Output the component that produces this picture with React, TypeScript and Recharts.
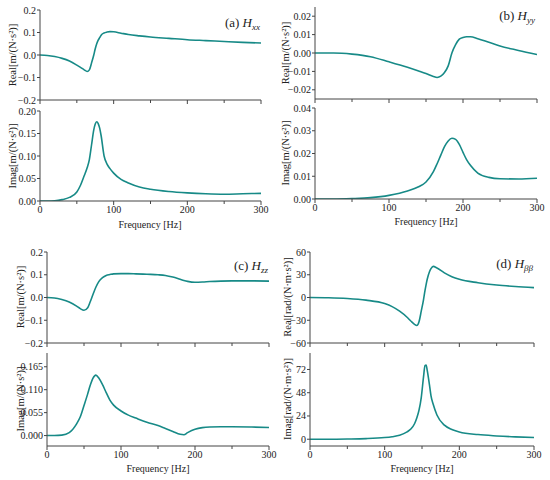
import React from 'react';
import { LineChart, Line, XAxis, YAxis } from 'recharts';

// ---- data ----
const freqTicks = [0, 50, 100, 150, 200, 250, 300];

// (a) Hxx
const freqA = [0, 10, 20, 30, 40, 50, 55, 60, 64, 67, 70, 73, 75, 77, 79, 81, 83, 87, 91, 95, 100, 110, 120, 135, 150, 175, 200, 225, 250, 275, 300];
const realA = [0, -0.002, -0.007, -0.015, -0.027, -0.045, -0.055, -0.066, -0.073, -0.066, -0.035, 0.0, 0.028, 0.05, 0.066, 0.077, 0.088, 0.098, 0.102, 0.104, 0.103, 0.097, 0.091, 0.085, 0.08, 0.074, 0.068, 0.064, 0.06, 0.056, 0.053];
const imagA = [0, 0, 0.0005, 0.003, 0.008, 0.02, 0.035, 0.056, 0.074, 0.092, 0.125, 0.158, 0.171, 0.176, 0.172, 0.162, 0.145, 0.1, 0.082, 0.072, 0.062, 0.048, 0.04, 0.031, 0.026, 0.021, 0.018, 0.016, 0.015, 0.016, 0.017];

// (b) Hyy
const freqB = [0, 25, 50, 75, 100, 125, 140, 150, 160, 165, 170, 175, 180, 185, 190, 195, 200, 205, 210, 220, 235, 250, 275, 300];
const realB = [0, 0, -0.0006, -0.002, -0.0048, -0.0078, -0.0098, -0.0112, -0.0128, -0.0133, -0.0126, -0.0106, -0.007, 0.0, 0.0045, 0.0075, 0.0084, 0.0088, 0.0088, 0.0078, 0.0058, 0.0038, 0.0014, -0.0008];
const imagB = [0, 0, 0.0002, 0.0006, 0.0016, 0.0035, 0.0054, 0.0075, 0.012, 0.0155, 0.0193, 0.023, 0.0255, 0.0267, 0.0262, 0.024, 0.0205, 0.0172, 0.0148, 0.0114, 0.0095, 0.0089, 0.0088, 0.0091];

// (c) Hzz
const freqC = [0, 10, 20, 30, 40, 45, 50, 55, 58, 62, 66, 70, 75, 80, 85, 90, 100, 110, 120, 135, 150, 160, 170, 180, 185, 190, 200, 210, 220, 235, 250, 275, 300];
const realC = [0, -0.002, -0.009, -0.02, -0.038, -0.049, -0.056, -0.045, -0.022, 0.012, 0.045, 0.07, 0.087, 0.097, 0.101, 0.104, 0.105, 0.105, 0.104, 0.102, 0.1, 0.097, 0.09, 0.08, 0.075, 0.071, 0.067, 0.068, 0.07, 0.072, 0.073, 0.073, 0.072];
const imagC = [0, 0, 0.001, 0.007, 0.028, 0.045, 0.072, 0.1, 0.118, 0.137, 0.145, 0.138, 0.122, 0.103, 0.085, 0.073, 0.059, 0.049, 0.042, 0.032, 0.024, 0.017, 0.01, 0.003, 0.002, 0.007, 0.015, 0.019, 0.0205, 0.021, 0.021, 0.0205, 0.0195];

// (d) Hββ
const freqD = [0, 25, 50, 75, 100, 110, 120, 130, 135, 140, 143, 146, 149, 152, 154, 155.5, 157, 160, 162, 165, 170, 180, 190, 200, 225, 250, 275, 300];
const realD = [0, -0.3, -1.3, -3.5, -8, -12, -18, -26, -31, -35.5, -37, -32, -18, -3, 9, 17, 24, 34, 38, 41, 39, 32.5, 27.5, 24, 19.5, 16.5, 14.5, 13];
const imagD = [0, 0, 0.2, 0.6, 1.7, 2.6, 4, 7.5, 10.5, 16, 22, 30, 43, 64, 76, 76.5, 71, 56, 45, 36, 25, 14.5, 10, 7.5, 4.8, 3.4, 2.4, 1.7];

const realTicksAC = [-0.2, -0.1, 0, 0.1, 0.2];
const imagTicksA = [0, 0.05, 0.1, 0.15, 0.2];
const realTicksB = [-0.02, -0.01, 0, 0.01, 0.02];
const imagTicksB = [0, 0.01, 0.02, 0.03, 0.04];
const imagTicksC = [0, 0.055, 0.11, 0.165];
const realTicksD = [-60, -30, 0, 30, 60];
const imagTicksD = [0, 24, 48, 72];

const LINE_COLOR = '#178a87';
const AXIS_COLOR = '#444';
const TEXT_COLOR = '#222';
const FONT = '"Liberation Serif", "DejaVu Serif", serif';

const toRows = (freq: number[], re: number[], im: number[]) =>
  freq.map((f, i) => ({ f, re: re[i], im: im[i] }));

const rowsA = toRows(freqA, realA, imagA);
const rowsB = toRows(freqB, realB, imagB);
const rowsC = toRows(freqC, realC, imagC);
const rowsD = toRows(freqD, realD, imagD);

const fmt = (v: number, decimals: number) => v.toFixed(decimals).replace('-', '\u2212');

interface SubPlotProps {
  rows: { f: number; re: number; im: number }[];
  dataKey: 're' | 'im';
  x0: number;
  x1: number;
  y0: number;
  y1: number;
  domain: [number, number];
  ticks: number[];
  decimals: number;
  showXLabels?: boolean;
}

const PAD_L = 42;
const PAD_R = 12;
const PAD_T = 8;

const SubPlot: React.FC<SubPlotProps> = ({ rows, dataKey, x0, x1, y0, y1, domain, ticks, decimals, showXLabels }) => {
  const xH = showXLabels ? 20 : 6;
  const width = x1 - x0 + PAD_L + PAD_R;
  const height = y1 - y0 + PAD_T + xH;

  const XTick = (p: any) => {
    const v = p.payload.value;
    const major = v % 100 === 0;
    return (
      <g>
        <line x1={p.x} x2={p.x} y1={p.y} y2={p.y + (major ? 4 : 3)} stroke={AXIS_COLOR} strokeWidth={1} />
        {showXLabels && major && (
          <text x={p.x} y={p.y + 12} textAnchor="middle" fontSize={10} fontFamily={FONT} fill={TEXT_COLOR}>
            {v}
          </text>
        )}
      </g>
    );
  };

  const YTick = (p: any) => (
    <g>
      <line x1={p.x - 3} x2={p.x} y1={p.y} y2={p.y} stroke={AXIS_COLOR} strokeWidth={1} />
      <text x={p.x - 4} y={p.y + 3.5} textAnchor="end" fontSize={10} fontFamily={FONT} fill={TEXT_COLOR}>
        {fmt(p.payload.value, decimals)}
      </text>
    </g>
  );

  return (
    <div style={{ position: 'absolute', left: x0 - PAD_L, top: y0 - PAD_T }}>
      <LineChart width={width} height={height} data={rows} margin={{ top: PAD_T, right: PAD_R, left: 0, bottom: 0 }}>
        <XAxis
          dataKey="f"
          type="number"
          domain={[0, 300]}
          ticks={freqTicks}
          interval={0}
          height={xH}
          tickSize={0}
          tickMargin={0}
          tickLine={false}
          tick={XTick}
          axisLine={{ stroke: AXIS_COLOR, strokeWidth: 1 }}
          allowDataOverflow
        />
        <YAxis
          type="number"
          domain={domain}
          ticks={ticks}
          interval={0}
          width={PAD_L}
          tickSize={0}
          tickMargin={0}
          tickLine={false}
          tick={YTick}
          axisLine={{ stroke: AXIS_COLOR, strokeWidth: 1 }}
          allowDataOverflow
        />
        <Line
          dataKey={dataKey}
          type="monotone"
          stroke={LINE_COLOR}
          strokeWidth={1.6}
          dot={false}
          isAnimationActive={false}
        />
      </LineChart>
    </div>
  );
};

const YLabel = ({ x, y, text }: { x: number; y: number; text: string }) => (
  <text x={x} y={y} transform={`rotate(-90 ${x} ${y})`} textAnchor="middle" fontSize={10.5} fontFamily={FONT} fill={TEXT_COLOR}>
    {text}
  </text>
);

const Title = ({ x, y, tag, sub }: { x: number; y: number; tag: string; sub: string }) => (
  <text x={x} y={y} textAnchor="end" fontSize={13} fontFamily={FONT} fill={TEXT_COLOR}>
    {tag + ' '}
    <tspan fontStyle="italic">H</tspan>
    <tspan fontStyle="italic" fontSize={9} dy={3}>{sub}</tspan>
  </text>
);

const FreqLabel = ({ x, y }: { x: number; y: number }) => (
  <text x={x} y={y} textAnchor="middle" fontSize={10} fontFamily={FONT} fill={TEXT_COLOR}>
    Frequency [Hz]
  </text>
);

export default function App() {
  return (
    <div style={{ position: 'absolute', left: 0, top: 0, width: 550, height: 480, background: '#fff' }}>
      {/* (a) */}
      <SubPlot rows={rowsA} dataKey="re" x0={40} x1={261} y0={10} y1={100} domain={[-0.2, 0.2]} ticks={realTicksAC} decimals={1} />
      <SubPlot rows={rowsA} dataKey="im" x0={40} x1={261} y0={111} y1={201} domain={[0, 0.2]} ticks={imagTicksA} decimals={2} showXLabels />
      {/* (b) */}
      <SubPlot rows={rowsB} dataKey="re" x0={315} x1={537} y0={7} y1={99} domain={[-0.025, 0.025]} ticks={realTicksB} decimals={2} />
      <SubPlot rows={rowsB} dataKey="im" x0={315} x1={537} y0={108} y1={199} domain={[0, 0.04]} ticks={imagTicksB} decimals={2} showXLabels />
      {/* (c) */}
      <SubPlot rows={rowsC} dataKey="re" x0={47} x1={269} y0={252} y1={343} domain={[-0.2, 0.2]} ticks={realTicksAC} decimals={1} />
      <SubPlot rows={rowsC} dataKey="im" x0={47} x1={269} y0={353} y1={446} domain={[-0.025, 0.198]} ticks={imagTicksC} decimals={3} showXLabels />
      {/* (d) */}
      <SubPlot rows={rowsD} dataKey="re" x0={310} x1={534} y0={252} y1={343} domain={[-60, 60]} ticks={realTicksD} decimals={0} />
      <SubPlot rows={rowsD} dataKey="im" x0={310} x1={534} y0={353} y1={446} domain={[-7, 89]} ticks={imagTicksD} decimals={0} showXLabels />

      <svg width={550} height={480} style={{ position: 'absolute', left: 0, top: 0, pointerEvents: 'none' }}>
        <YLabel x={16} y={55} text="Real[m/(N·s²)]" />
        <YLabel x={16} y={156} text="Imag[m/(N·s²)]" />
        <YLabel x={289} y={53} text="Real[m/(N·s²)]" />
        <YLabel x={289} y={153} text="Imag[m/(N·s²)]" />
        <YLabel x={24} y={297} text="Real[m/(N·s²)]" />
        <YLabel x={24} y={399} text="Imag[m/(N·s²)]" />
        <YLabel x={291} y={297} text="Real[rad/(N·m·s²)]" />
        <YLabel x={291} y={399} text="Imag[rad/(N·m·s²)]" />

        <Title x={260} y={27} tag="(a)" sub="xx" />
        <Title x={535} y={20} tag="(b)" sub="yy" />
        <Title x={268} y={270} tag="(c)" sub="zz" />
        <Title x={533} y={268} tag="(d)" sub="ββ" />

        <FreqLabel x={150} y={228} />
        <FreqLabel x={426} y={225} />
        <FreqLabel x={158} y={472} />
        <FreqLabel x={422} y={472} />
      </svg>
    </div>
  );
}
